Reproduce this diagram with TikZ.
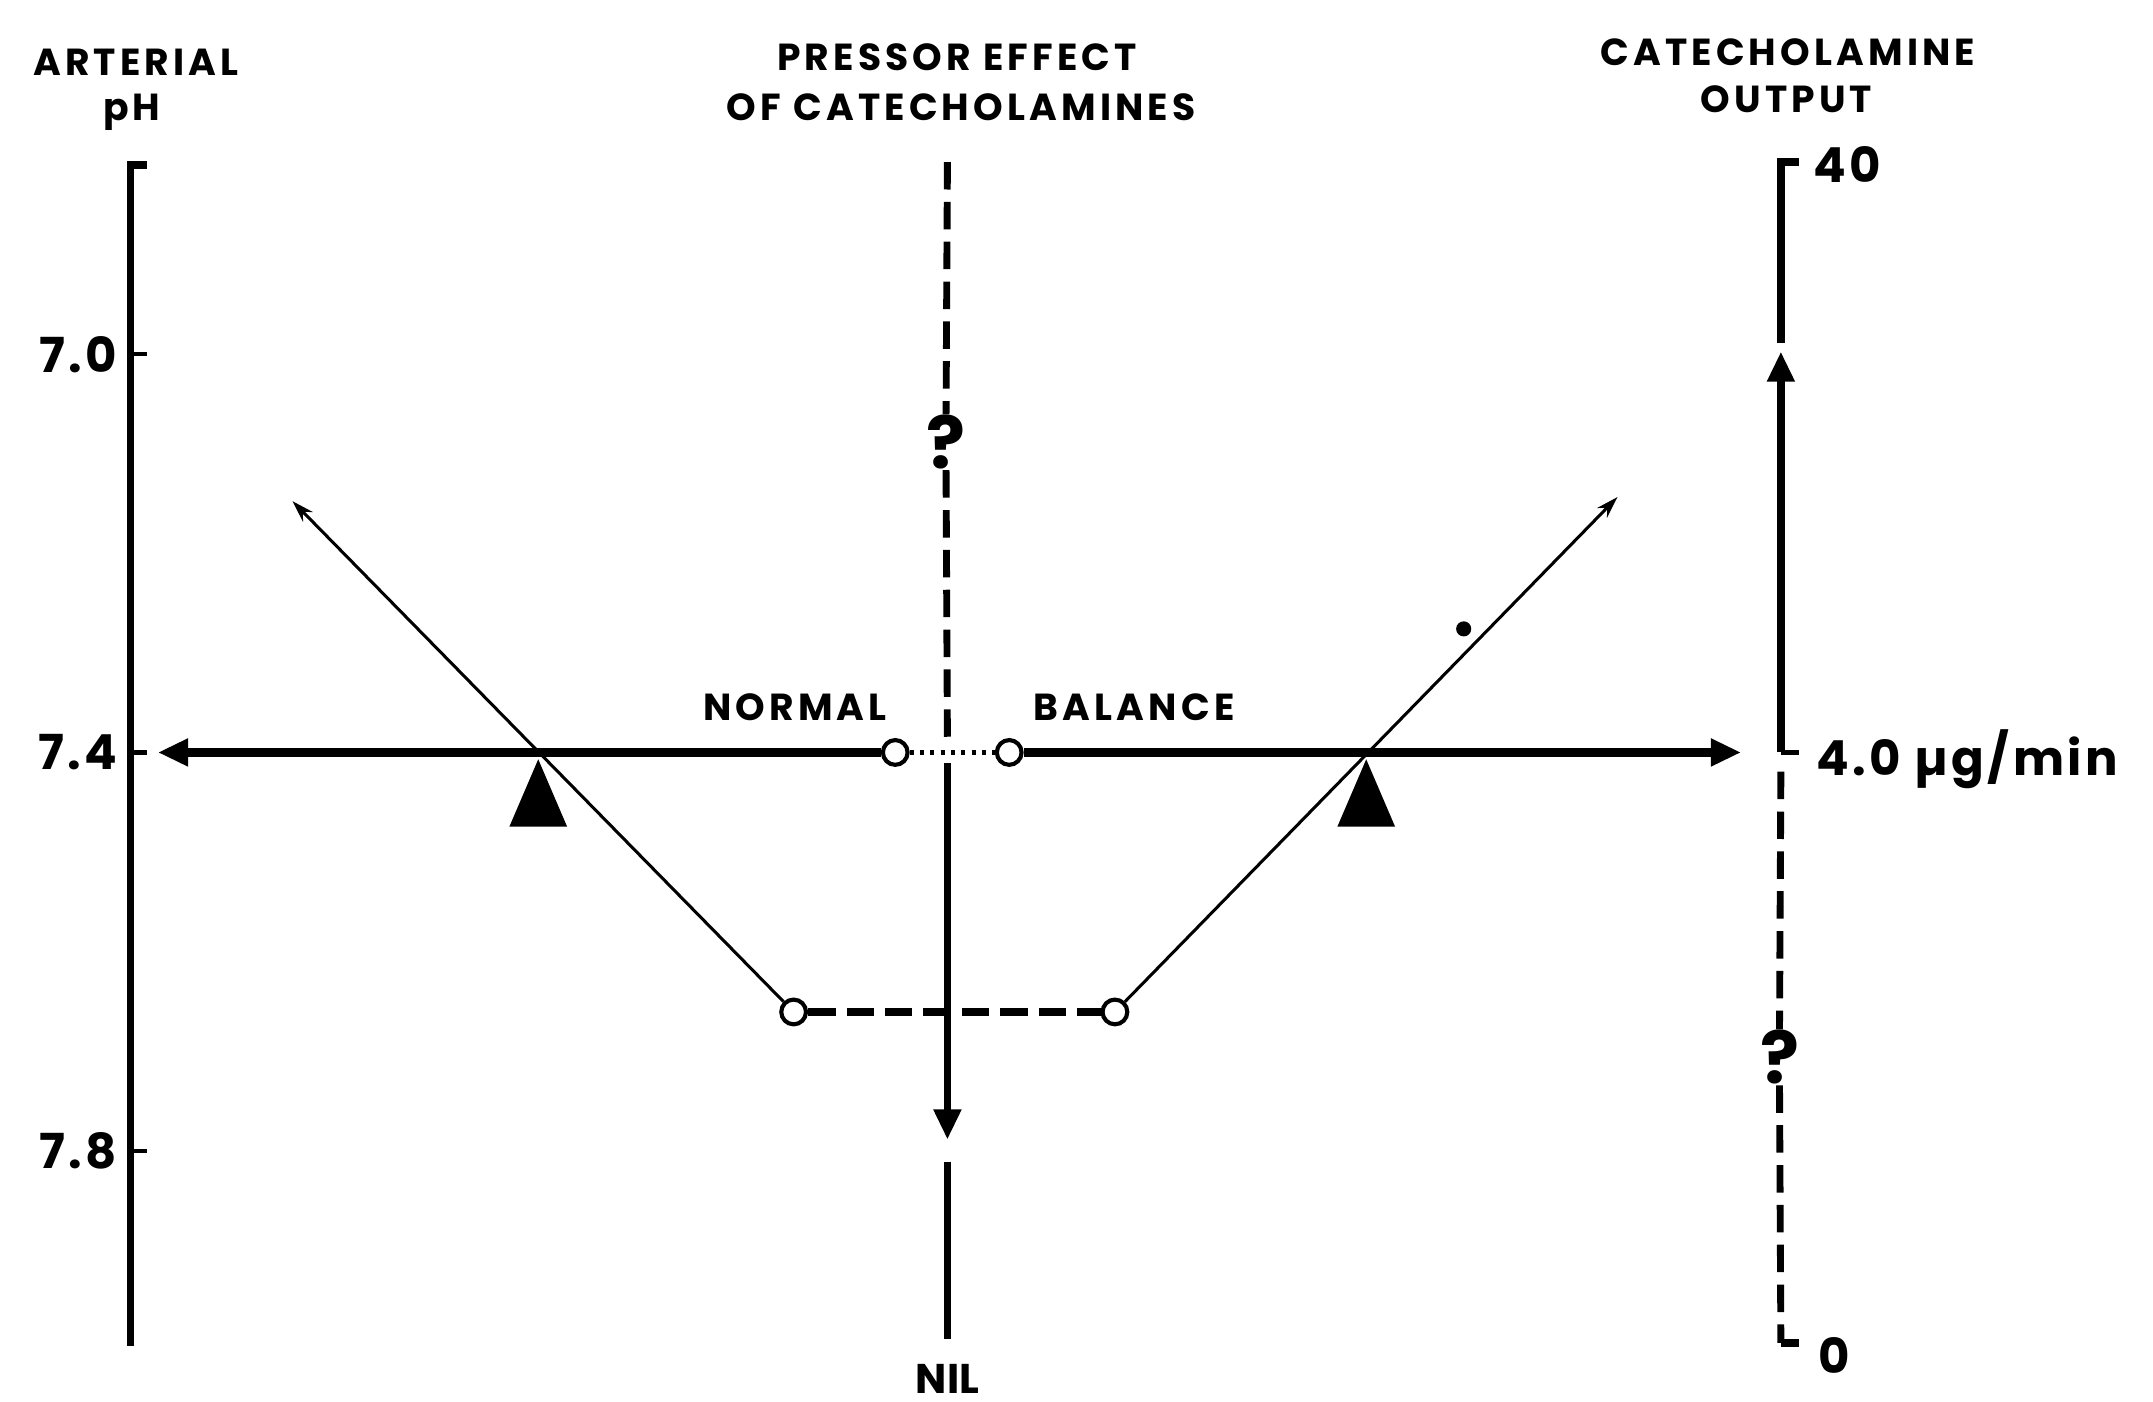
\documentclass[tikz,border=0pt]{standalone}
\usepackage{fontspec}
\setmainfont{Poppins}
\usetikzlibrary{arrows.meta,shapes.geometric}
\begin{document}
\begin{tikzpicture}[x=0.01cm,y=-0.01cm,
  axisline/.style={line width=0.055cm},
  tickline/.style={line width=0.03cm},
  mainarrow/.style={line width=0.06cm},
  diag/.style={line width=0.022cm},
  dashline/.style={line width=0.05cm, dash pattern=on 0.2cm off 0.09cm},
  hd/.style={font=\fontsize{7.8}{9}\selectfont\bfseries\addfontfeature{LetterSpace=11}, inner sep=0},
  num/.style={font=\fontsize{10}{12}\selectfont\bfseries\addfontfeature{LetterSpace=7}, inner sep=0},
  qm/.style={font=\fontsize{15}{16}\selectfont\bfseries, inner sep=0},
  ring/.style={circle, draw, fill=white, line width=0.03cm, minimum size=0.18cm, inner sep=0},
  bigtip/.style={-{Triangle[length=0.22cm,width=0.19cm]}},
  smalltip/.style={-{Stealth[length=0.16cm,width=0.1cm]}}
]
\useasboundingbox (0,0) rectangle (1568,1021);

% headings
\node[hd] (hA1) at (99,45) {ARTERIAL};
\node[hd] (hA2) at (96,82) {pH};
\node[hd] (hP1) at (697,42) {PRESSOR EFFECT};
\node[hd] (hP2) at (700,78) {OF CATECHOLAMINES};
\node[hd] (hC1) at (1302,38) {CATECHOLAMINE};
\node[hd] (hC2) at (1301,72) {OUTPUT};

% left axis
\coordinate (LT) at (95,120);
\coordinate (LB) at (95,980);
\draw[axisline] (107,120) -- (LT) -- (LB);
\draw[tickline] (95,258) -- (107,258);
\draw[tickline] (95,548) -- (107,548);
\draw[tickline] (95,838) -- (107,838);
\node[num, anchor=east] (l70) at (86,258) {7.0};
\node[num, anchor=east] (l74) at (86,548) {7.4};
\node[num, anchor=east] (l78) at (86,838) {7.8};

% rings
\node[ring] (nL) at (652,548) {};
\node[ring] (nR) at (735,548) {};
\node[ring] (bL) at (578,737) {};
\node[ring] (bR) at (812,737) {};

% horizontal balance arrow
\coordinate (arrL) at (115,548);
\coordinate (arrR) at (1268,548);
\draw[mainarrow, bigtip] (nL) -- (arrL);
\draw[mainarrow, bigtip] (nR) -- (arrR);
\draw[line width=0.035cm, dash pattern=on 0.03cm off 0.045cm] (nL) -- (nR);
\node[hd] (tN) at (579,515) {NORMAL};
\node[hd] (tB) at (826,515) {BALANCE};

% middle vertical
\coordinate (mT) at (690,118);
\node[qm] (q1) at (689,322) {?};
\coordinate (mD) at (690,540);
\coordinate (mS) at (690,556);
\coordinate (mA) at (690,830);
\coordinate (mC) at (690,846);
\coordinate (mB) at (690,975);
\draw[dashline] (mT) -- (q1.north);
\draw[dashline] (q1.south) -- (mD);
\draw[axisline, bigtip] (mS) -- (mA);
\draw[axisline] (mC) -- (mB);
\node[hd, font=\fontsize{8.6}{10}\selectfont\bfseries] (tNIL) at (690,1004) {NIL};

% diagonals
\coordinate (dL) at (213,365);
\coordinate (dR) at (1178,362);
\draw[diag, smalltip] (bL) -- (dL);
\draw[diag, smalltip] (bR) -- (dR);
\draw[line width=0.06cm, dash pattern=on 0.2cm off 0.08cm] (bL) -- (bR);

% fulcrum triangles
\fill (392,553) -- (413,602) -- (371,602) -- cycle;
\fill (995,553) -- (1016,602) -- (974,602) -- cycle;

% dot
\fill (1066,458) circle (0.055cm);

% right axis
\coordinate (rT) at (1297,118);
\coordinate (rM) at (1297,548);
\coordinate (rH) at (1297,256);
\coordinate (rB) at (1297,978);
\node[qm] (q2) at (1296,770) {?};
\draw[axisline, bigtip] (rM) -- (rH);
\draw[axisline] (1297,250) -- (rT) -- (1310,118);
\draw[tickline] (rM) -- (1310,548);
\draw[dashline] (1297,562) -- (q2.north);
\draw[dashline] (q2.south) -- (rB);
\draw[axisline] (rB) -- (1310,978);
\node[num, anchor=west] (t40) at (1320,120) {40};
\node[num, anchor=west] (t4) at (1322,553) {4.0 µg/min};
\node[num, anchor=west] (t0) at (1324,987) {0};
\end{tikzpicture}
\end{document}
